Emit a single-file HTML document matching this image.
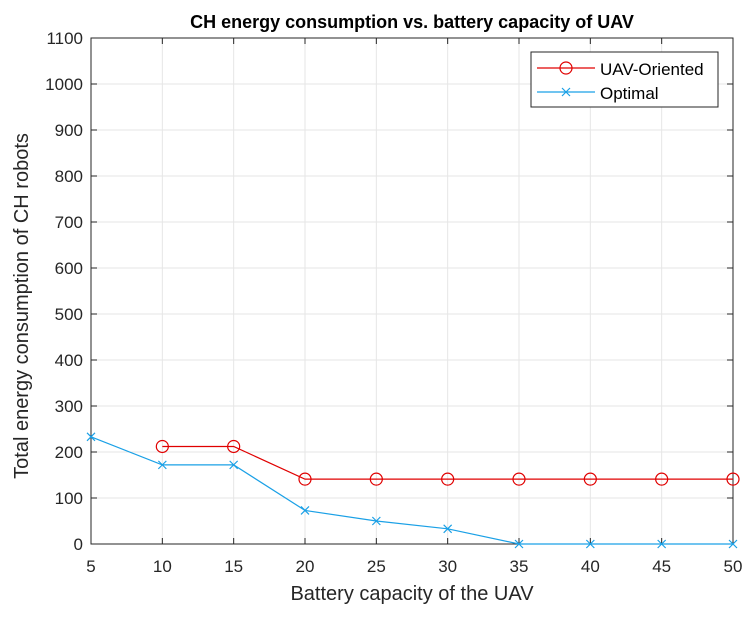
<!DOCTYPE html>
<html><head><meta charset="utf-8"><style>
body{margin:0;background:#fff;}
svg text{font-family:"Liberation Sans",Arial,sans-serif;}
</style></head><body>
<svg id="chart" width="753" height="613" xmlns="http://www.w3.org/2000/svg">
<rect width="753" height="613" fill="#fff"/>
<g id="grid"></g>
<g id="axes"></g>
<g id="series"></g>
<text x="412" y="28" text-anchor="middle" font-size="18" font-weight="bold" fill="#000">CH energy consumption vs. battery capacity of UAV</text>
<text x="412" y="600" text-anchor="middle" font-size="20" fill="#262626">Battery capacity of the UAV</text>
<text transform="translate(28,306) rotate(-90)" text-anchor="middle" font-size="20" fill="#262626">Total energy consumption of CH robots</text>
<g>
<rect x="531" y="52" width="187" height="55" fill="#fff" stroke="#262626" stroke-width="1"/>
<g>
<line x1="537" y1="68" x2="595" y2="68" stroke="#e00000" stroke-width="1.2"/>
<circle cx="566" cy="68" r="6" fill="none" stroke="#e00000" stroke-width="1.2"/>
<text x="600" y="75" font-size="17" fill="#000">UAV-Oriented</text></g>
<g>
<line x1="537" y1="92" x2="595" y2="92" stroke="#1aa0e6" stroke-width="1.2"/>
<path d="M562 88 L570 96 M570 88 L562 96" stroke="#1aa0e6" stroke-width="1.2"/>
<text x="600" y="99" font-size="17" fill="#000">Optimal</text></g>
</g>
</svg>
<script>
const xTicks=[5,10,15,20,25,30,35,40,45,50];
const yTicks=[0,100,200,300,400,500,600,700,800,900,1000,1100];
const uavX=[10,15,20,25,30,35,40,45,50];
const uavY=[212,212,141,141,141,141,141,141,141];
const optX=[5,10,15,20,25,30,35,40,45,50];
const optY=[233,172,172,73,50,33,0,0,0,0];
const L=91,R=733,T=38,B=544;
const sx=v=>L+(v-5)/(50-5)*(R-L);
const sy=v=>B-v/1100*(B-T);
const NS="http://www.w3.org/2000/svg";
function mk(tag,attrs,parent){const e=document.createElementNS(NS,tag);for(const k in attrs)e.setAttribute(k,attrs[k]);parent.appendChild(e);return e;}
const grid=document.getElementById('grid'),axes=document.getElementById('axes'),ser=document.getElementById('series');
xTicks.forEach(t=>{
  const g=mk('line',{x1:sx(t),x2:sx(t),y1:T,y2:B,stroke:'#e6e6e6','stroke-width':1},grid);
  
  
  mk('line',{x1:sx(t),x2:sx(t),y1:B,y2:B-6,stroke:'#262626'},axes);
  mk('line',{x1:sx(t),x2:sx(t),y1:T,y2:T+6,stroke:'#262626'},axes);
  const lb=mk('text',{x:sx(t),y:B+28,'text-anchor':'middle','font-size':17,fill:'#262626'},axes);
  lb.textContent=t;
  
  
});
yTicks.forEach(t=>{
  const g=mk('line',{x1:L,x2:R,y1:sy(t),y2:sy(t),stroke:'#e6e6e6','stroke-width':1},grid);
  
  
  mk('line',{x1:L,x2:L+6,y1:sy(t),y2:sy(t),stroke:'#262626'},axes);
  mk('line',{x1:R,x2:R-6,y1:sy(t),y2:sy(t),stroke:'#262626'},axes);
  const lb=mk('text',{x:L-8,y:sy(t)+6,'text-anchor':'end','font-size':17,fill:'#262626'},axes);
  lb.textContent=t;
  
  
});
const box=mk('rect',{x:L,y:T,width:R-L,height:B-T,fill:'none',stroke:'#262626'},axes);


const l1=mk('polyline',{points:uavX.map((x,i)=>sx(x)+','+sy(uavY[i])).join(' '),fill:'none',stroke:'#e00000','stroke-width':1.2},ser);


uavX.forEach((x,i)=>{
  const c=mk('circle',{cx:sx(x),cy:sy(uavY[i]),r:6,fill:'none',stroke:'#e00000','stroke-width':1.2},ser);
  
  
});
const l2=mk('polyline',{points:optX.map((x,i)=>sx(x)+','+sy(optY[i])).join(' '),fill:'none',stroke:'#1aa0e6','stroke-width':1.2},ser);


optX.forEach((x,i)=>{
  const px=sx(x),py=sy(optY[i]);
  const p=mk('path',{d:`M${px-4} ${py-4} L${px+4} ${py+4} M${px+4} ${py-4} L${px-4} ${py+4}`,stroke:'#1aa0e6','stroke-width':1.2},ser);
  
  
});
</script>
</body></html>
